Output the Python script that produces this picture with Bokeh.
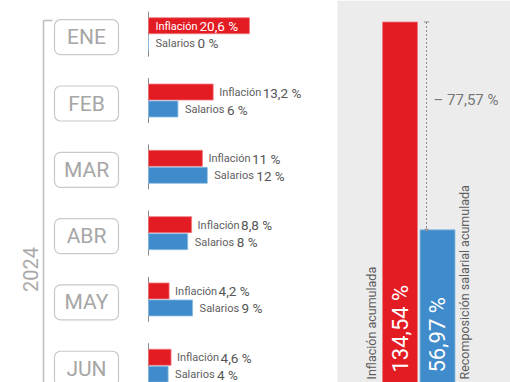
from bokeh.plotting import figure
from bokeh.models import Range1d, ColumnDataSource
from bokeh.core.properties import value
from bokeh.embed import file_html
from bokeh.resources import INLINE
from math import pi

# ---------------- data ----------------
months = ["ENE", "FEB", "MAR", "ABR", "MAY", "JUN"]
inflacion = [20.6, 13.2, 11, 8.8, 4.2, 4.6]
salarios = [0, 6, 12, 8, 9, 4]
year_label = "2024"
acc_labels = ["Inflación acumulada", "Recomposición salarial acumulada"]
acc_values = [134.54, 56.97]

RED = "#e31b23"
BLUE = "#3f8bcb"
GRAY_TXT = "#5e5e5e"
FONT = value("Roboto")

def fmt(v, dec=None):
    s = (f"{v:.{dec}f}" if dec is not None else f"{v:g}").replace(".", ",")
    return s + " %"

# ---------------- layout constants (page pixels) ----------------
X0, X1, Y0, Y1 = 0, 510, 0, 382
BASE_X, PX_PER_PCT = 148, 4.9
M_Y0, M_STEP = 36.7, 66.31
ACC_X0, ACC_STEP = 399.5, 37.5
ACC_PX = (382 - 21.5) / 134.54

p = figure(width=X1 - X0, height=Y1 - Y0, output_backend="svg", toolbar_location=None,
           x_range=Range1d(X0, X1), y_range=Range1d(Y1, Y0), min_border=0)
p.axis.visible = False
p.grid.visible = False
p.outline_line_color = None
p.background_fill_color = "white"
p.border_fill_color = "white"

p.extra_x_ranges = {
    "val": Range1d((X0 - BASE_X) / PX_PER_PCT, (X1 - BASE_X) / PX_PER_PCT),
    "acc": Range1d((X0 - ACC_X0) / ACC_STEP, (X1 - ACC_X0) / ACC_STEP),
}
p.extra_y_ranges = {
    "month": Range1d((Y1 - M_Y0) / M_STEP, (Y0 - M_Y0) / M_STEP),
    "accv": Range1d(0, (Y1 - Y0) / ACC_PX),
}

# ---------------- right gray panel ----------------
p.quad(left=337, right=X1, bottom=Y1, top=Y0, fill_color="#ececec", line_color=None)

# ---------------- bracket + year ----------------
p.segment(x0=[43, 43], y0=[20, 20], x1=[43, 52], y1=[Y1, 20], line_color="#bdbdbd", line_width=1.5)
p.text(x=[30], y=[269], text=[year_label], angle=pi / 2, text_align="center",
       text_baseline="middle", text_font_size="20px", text_color="#a9a9a9",
       text_font=FONT)

# ---------------- month boxes ----------------
idx = list(range(len(months)))
src = ColumnDataSource(dict(
    i=idx, month=months, inf=inflacion, sal=salarios,
    red_y=[i - 0.173 for i in idx], blue_y=[i + 0.083 for i in idx],
    line_top=[i - 0.385 for i in idx], line_bot=[i + 0.294 for i in idx],
    box_top=[i - 0.264 for i in idx], box_bot=[i + 0.264 for i in idx],
    zero=[0] * len(idx),
))

p.quad(left=54, right=118, top="box_top", bottom="box_bot", source=src, y_range_name="month",
       fill_color="white", line_color="#c9c9c9", line_width=1.2, border_radius=6)
p.text(x=86, y="i", text="month", source=src, y_range_name="month", text_align="center",
       text_baseline="middle", text_font_size="21px", text_color="#a6a6a6",
       text_font=FONT)

# ---------------- monthly bars ----------------
BAR_H = 16 / M_STEP
p.segment(x0="zero", x1="zero", y0="line_top", y1="line_bot", source=src,
          x_range_name="val", y_range_name="month", line_color="#8a8a8a", line_width=1)
p.hbar(y="red_y", left=0, right="inf", height=BAR_H, source=src, x_range_name="val",
       y_range_name="month", fill_color=RED, line_color="#f07a7e", line_width=0.8)
p.hbar(y="blue_y", left=0, right="sal", height=BAR_H, source=src, x_range_name="val",
       y_range_name="month", fill_color=BLUE, line_color="#8cbbe3", line_width=0.8)

INSIDE = 15
out_i = [k for k in idx if inflacion[k] <= INSIDE]
in_i = [k for k in idx if inflacion[k] > INSIDE]

def sub(keys, inside):
    return ColumnDataSource(dict(
        x=[0 if inside else inflacion[k] for k in keys], y=[k - 0.173 for k in keys],
        lab=[fmt(inflacion[k]) for k in keys]))

s_out = sub(out_i, False)
s_in = sub(in_i, True)

common = dict(x_range_name="val", y_range_name="month", text_baseline="alphabetic",
              text_align="left", text_font=FONT, y_offset=0.5)
p.text(x="x", y="y", text=value("Inflación"), source=s_out, x_offset=6,
       text_font_size="11px", text_color=GRAY_TXT, **common)
p.text(x="x", y="y", text="lab", source=s_out, x_offset=6 + 43.5,
       text_font_size="13.5px", text_color="#555555", **common)
p.text(x="x", y="y", text=value("Inflación"), source=s_in, x_offset=7,
       text_font_size="11px", text_color="white", **common)
p.text(x="x", y="y", text="lab", source=s_in, x_offset=7 + 44,
       text_font_size="13.5px", text_color="white", **common)

s_sal = ColumnDataSource(dict(x=salarios, y=[k + 0.083 for k in idx],
                              lab=[fmt(v) for v in salarios]))
p.text(x="x", y="y", text=value("Salarios"), source=s_sal, x_offset=7,
       text_font_size="11px", text_color=GRAY_TXT, **common)
p.text(x="x", y="y", text="lab", source=s_sal, x_offset=7 + 42,
       text_font_size="13.5px", text_color="#555555", **common)

# ---------------- accumulated bars ----------------
acc_src = ColumnDataSource(dict(
    x=[0, 1], top=acc_values, col=[RED, BLUE], edge=["#f07a7e", "#8cbbe3"],
    lab=[fmt(v, 2) for v in acc_values], zero=[0, 0],
    side_x=[-0.76, 1.72], side_lab=acc_labels))
p.vbar(x="x", top="top", bottom=0, width=35 / ACC_STEP, source=acc_src,
       x_range_name="acc", y_range_name="accv", fill_color="col", line_color="edge",
       line_width=0.8)
p.text(x="x", y="zero", text="lab", source=acc_src, x_range_name="acc", y_range_name="accv",
       angle=pi / 2, y_offset=-10, text_align="left", text_baseline="middle",
       text_font_size="22px", text_color="white", text_font=FONT)
p.text(x="side_x", y="zero", text="side_lab", source=acc_src, x_range_name="acc",
       y_range_name="accv", angle=pi / 2, y_offset=-3, text_align="left",
       text_baseline="middle", text_font_size="12.5px", text_color=GRAY_TXT,
       text_font=FONT)

# difference marker
DX = 0.707
diff = acc_values[0] - acc_values[1]
p.segment(x0=[DX], x1=[DX], y0=[acc_values[0]], y1=[acc_values[1]], x_range_name="acc",
          y_range_name="accv", line_color="#8c8c8c", line_dash="2 2", line_width=1)
p.segment(x0=[DX - 0.07], x1=[DX + 0.07], y0=[acc_values[0]], y1=[acc_values[0]],
          x_range_name="acc", y_range_name="accv", line_color="#8c8c8c", line_width=1)
p.scatter(x=[DX], y=[acc_values[1]], marker="triangle", angle=pi, size=4,
          x_range_name="acc", y_range_name="accv", fill_color="#8c8c8c", line_color=None)
p.text(x=[DX], y=[105.6], text=["– " + fmt(diff, 2)], x_range_name="acc", y_range_name="accv",
       x_offset=7, text_align="left", text_baseline="middle", text_font_size="15px",
       text_color="#777777", text_font=FONT)

open("out.html", "w").write(file_html(p, INLINE))
